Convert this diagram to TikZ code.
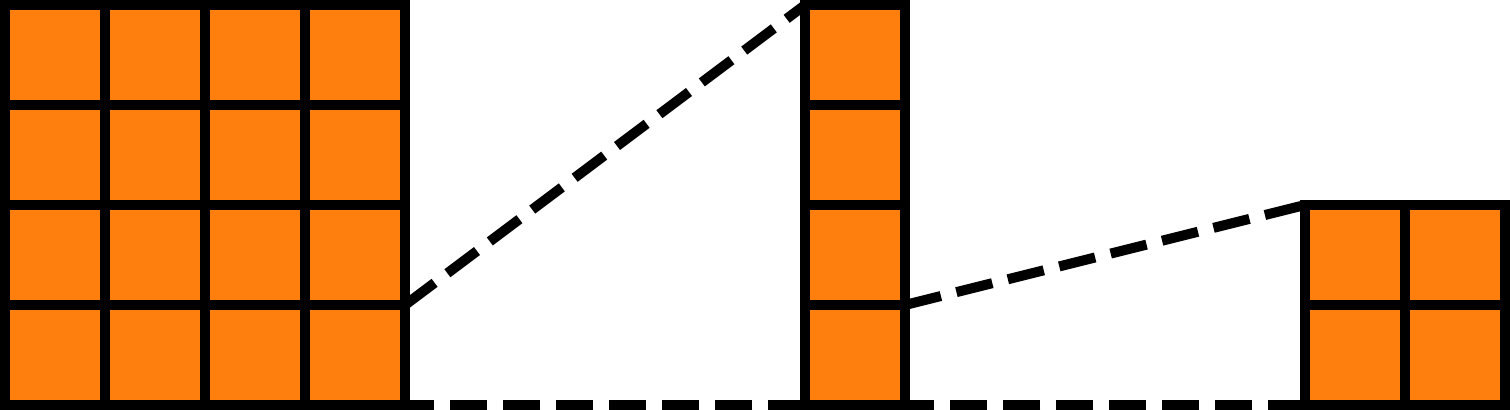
\documentclass[tikz,border=0pt]{standalone}
\usepackage{tikz}
\definecolor{cellorange}{HTML}{FF7F0E}

\begin{document}
\begin{tikzpicture}[cell/.style={draw,fill=cellorange,line width=1mm,minimum size=1cm,inner sep=0pt,outer sep=0pt,line join=miter},
    link/.style={line width=1mm,dash pattern=on 3.7mm off 1.6mm,line cap=butt}]
  \useasboundingbox (-0.05,-0.04) rectangle (15.05,4.05);
  % 4x4 block, single column, 2x2 block
  \foreach \i in {0,...,3} \foreach \j in {0,...,3} \node[cell] (big-\i-\j) at (\i+0.5,\j+0.5) {};
  \foreach \j in {0,...,3} \node[cell] (col-\j) at (8.5,\j+0.5) {};
  \foreach \i in {0,1} \foreach \j in {0,1} \node[cell] (small-\i-\j) at (13.5+\i,\j+0.5) {};
  \draw[link] (big-3-0.north east) -- (col-3.north west);
  \draw[link] (col-0.north east) -- (small-0-1.north west);
  \draw[link] (col-0.south west) -- (big-3-0.south east);
  \draw[link] (small-0-0.south west) -- (col-0.south east);
\end{tikzpicture}
\end{document}
